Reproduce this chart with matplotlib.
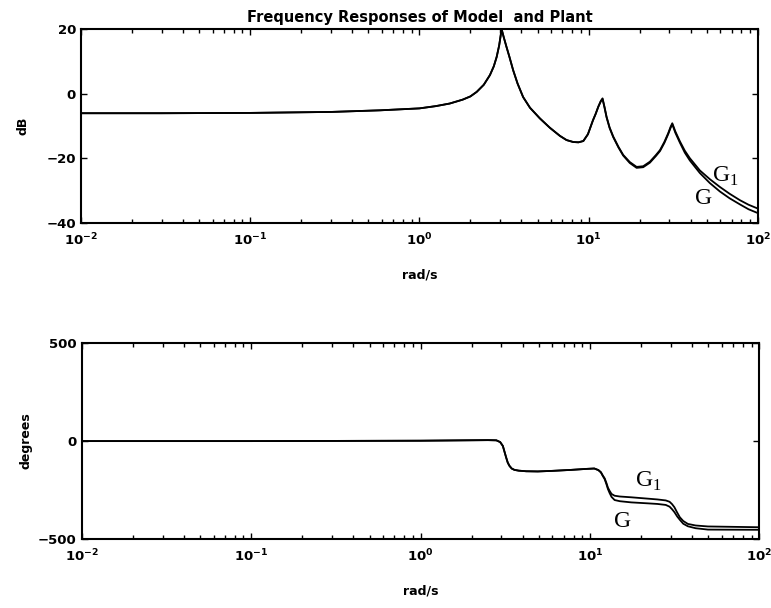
import matplotlib.pyplot as plt
import numpy as np

# frequencies (rad/s) and magnitudes (dB)
w_mag = [0.01, 0.03, 0.1, 0.3, 0.585, 1.0, 1.25, 1.51, 1.8, 2.0, 2.18, 2.4,
         2.61, 2.75, 2.86, 2.96, 3.06, 3.15, 3.27, 3.4, 3.58, 3.8, 4.10, 4.5,
         5.15, 5.9, 6.76, 7.4, 8.1, 8.7, 9.3, 9.9, 10.6, 11.0, 11.4, 11.8,
         12.08, 12.4, 12.76, 13.3, 13.97, 15.0, 16.0, 17.5, 19.2, 21.0, 23.0,
         25.0, 26.4, 28.0, 29.5, 30.5, 31.2, 32.5, 34.6, 37.0, 39.6, 45.4,
         52.0, 59.6, 68.0, 78.3, 88.0, 100.0]
mag_G = [-6.0, -6.0, -5.9, -5.6, -5.1, -4.5, -3.8, -3.0, -1.8, -0.8, 0.6, 2.8,
         5.8, 8.5, 11.4, 15.0, 20.0, 17.5, 14.5, 11.5, 7.3, 3.2, -1.0, -4.3,
         -7.6, -10.5, -13.0, -14.3, -14.9, -15.0, -14.6, -12.5, -8.2, -6.2,
         -4.0, -2.3, -1.6, -4.2, -7.3, -10.6, -13.4, -16.6, -19.1, -21.4,
         -22.9, -22.7, -21.3, -19.2, -17.7, -15.2, -12.5, -10.5, -9.4, -12.0,
         -15.1, -18.2, -20.6, -24.5, -27.6, -30.2, -32.3, -34.2, -35.7, -36.9]
mag_G1 = [-6.0, -6.0, -5.9, -5.6, -5.1, -4.5, -3.8, -3.0, -1.8, -0.8, 0.6, 2.8,
          5.8, 8.5, 11.4, 15.0, 20.0, 17.5, 14.5, 11.5, 7.3, 3.2, -1.0, -4.3,
          -7.6, -10.5, -13.0, -14.3, -14.9, -15.0, -14.6, -12.5, -8.2, -6.2,
          -4.0, -2.2, -1.4, -4.0, -7.1, -10.4, -13.2, -16.4, -18.9, -21.1,
          -22.6, -22.4, -21.0, -18.9, -17.4, -14.9, -12.2, -10.2, -9.1, -11.6,
          -14.7, -17.6, -19.9, -23.7, -26.4, -28.8, -30.9, -32.9, -34.3, -35.5]

# phase (degrees)
w_ph = [0.01, 0.1, 1.0, 2.5, 2.8, 2.95, 3.06, 3.13, 3.2, 3.27, 3.35, 3.45,
        3.58, 3.8, 4.2, 4.92, 6.0, 7.74, 9.5, 10.6, 11.2, 11.6, 11.9, 12.2,
        12.5, 12.76, 13.05, 13.4, 13.97, 15.0, 17.5, 22.0, 25.0, 28.0, 29.5,
        30.5, 31.5, 32.7, 33.9, 35.5, 37.8, 42.0, 49.7, 100.0]
ph_G = [0, 0, 2, 5, 4, -5, -25, -55, -84, -110, -127, -140,
        -147, -151, -154, -155, -152, -147, -142, -140, -148, -160, -178, -194,
        -220, -245, -265, -285, -301, -307, -313, -318, -321, -326, -335,
        -348, -363, -385, -402, -422, -435, -445, -452, -453]
ph_G1 = [0, 0, 2, 5, 4, -5, -25, -55, -84, -110, -127, -140,
         -147, -151, -154, -155, -152, -147, -142, -140, -148, -159, -176, -190,
         -214, -238, -254, -270, -279, -283, -287, -294, -298, -303, -310,
         -322, -338, -365, -389, -408, -423, -431, -436, -440]

fig = plt.figure(figsize=(7.71, 6.08), dpi=100)
ax1 = fig.add_axes([0.105, 0.633, 0.878, 0.319])
ax2 = fig.add_axes([0.106, 0.1135, 0.879, 0.322])

lab_font = dict(family='DejaVu Sans', fontsize=9, fontweight='bold')
g_font = dict(family='Liberation Serif', fontsize=17)

for ax in (ax1, ax2):
    ax.set_xscale('log')
    ax.set_xlim(1e-2, 1e2)
    ax.tick_params(which='both', direction='in', top=True, right=True,
                   labelsize=9.5, width=1)
    ax.tick_params(axis='x', pad=6)
    ax.tick_params(which='major', length=4)
    ax.tick_params(which='minor', length=3)
    for s in ax.spines.values():
        s.set_linewidth(1.5)
    ax.set_xlabel('rad/s', labelpad=15, **lab_font)

ax1.plot(w_mag, mag_G, color='black', lw=1.3)
ax1.plot(w_mag, mag_G1, color='black', lw=1.3)
ax1.set_ylim(-40, 20)
ax1.set_yticks([-40, -20, 0, 20])
ax1.set_ylabel('dB', labelpad=12, **lab_font)
ax1.set_title('Frequency Responses of Model  and Plant', fontsize=10.5,
              fontweight='bold', pad=5)
ax1.text(64, -25.5, r'G$_\mathregular{1}$', ha='center', va='center', **g_font)
ax1.text(48, -32.5, 'G', ha='center', va='center', **g_font)

ax2.plot(w_ph, ph_G, color='black', lw=1.3)
ax2.plot(w_ph, ph_G1, color='black', lw=1.3)
ax2.set_ylim(-500, 500)
ax2.set_yticks([-500, 0, 500])
ax2.set_ylabel('degrees', labelpad=4, **lab_font)
ax2.text(22, -205, r'G$_\mathregular{1}$', ha='center', va='center', **g_font)
ax2.text(15.5, -410, 'G', ha='center', va='center', **g_font)

for ax in (ax1, ax2):
    for t in ax.get_xticklabels() + ax.get_yticklabels():
        t.set_fontweight('bold')

fig.savefig('out.png', dpi=100)
